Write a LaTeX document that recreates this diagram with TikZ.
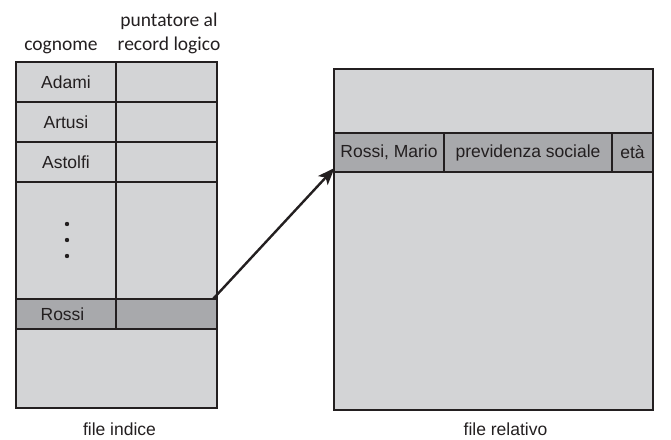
\documentclass[tikz,border=0pt]{standalone}
\usepackage{fontspec}
\setmainfont{Liberation Sans}
\newfontfamily\hdrfont{Carlito}
\usetikzlibrary{arrows.meta}
\definecolor{lg}{RGB}{211,212,214}
\definecolor{dg}{RGB}{168,169,172}
\definecolor{ink}{RGB}{35,31,32}
\begin{document}
\begin{tikzpicture}[x=1pt,y=-1pt,
  cell/.style={draw=ink,line width=1.1pt,fill=lg,inner sep=0pt,outer sep=0pt,
    anchor=north west,text=ink,font=\fontsize{17.5}{20}\selectfont},
  dark/.style={cell,fill=dg},
  hdr/.style={anchor=base,inner sep=0pt,text=ink,font=\hdrfont\fontsize{19.5}{22}\selectfont},
  caption/.style={anchor=base,inner sep=0pt,text=ink,font=\fontsize{17.5}{20}\selectfont},
  ptr/.style={-{Stealth[length=17pt,width=13pt,inset=4pt]},line width=2.4pt,draw=ink}]
\useasboundingbox (0,0) rectangle (671,439);
% header labels
\node[hdr] (hcog) at (61,50) {cognome};
\node[hdr] (hpun) at (169,26) {puntatore al};
\node[hdr] (hrec) at (169,50) {record logico};
% file indice
\node[cell,minimum width=100pt,minimum height=40pt] (adami) at (16,62) {Adami};
\node[cell,minimum width=101pt,minimum height=40pt] (adamiP) at (116,62) {};
\node[cell,minimum width=100pt,minimum height=40pt] (artusi) at (16,102) {Artusi};
\node[cell,minimum width=101pt,minimum height=40pt] (artusiP) at (116,102) {};
\node[cell,minimum width=100pt,minimum height=40pt] (astolfi) at (16,142) {Astolfi};
\node[cell,minimum width=101pt,minimum height=40pt] (astolfiP) at (116,142) {};
\node[cell,minimum width=100pt,minimum height=117pt] (dotsc) at (16,182) {};
\node[cell,minimum width=101pt,minimum height=117pt] (dotsP) at (116,182) {};
\node[cell,minimum width=201pt,minimum height=79pt] (rest) at (16,329) {};
\node[dark,minimum width=100pt,minimum height=30pt] (rossi) at (16,299) {\hspace*{-7pt}Rossi};
\node[dark,minimum width=101pt,minimum height=30pt] (rossiP) at (116,299) {};
\fill[ink] (67,224) circle (2.2pt) (67,240) circle (2.2pt) (67,256) circle (2.2pt);
% file relativo
\node[cell,minimum width=319pt,minimum height=341pt] (rel) at (334,69) {};
\node[dark,minimum width=110pt,minimum height=39pt] (rm) at (334,133) {Rossi, Mario};
\node[dark,minimum width=168pt,minimum height=39pt] (ps) at (444,133) {previdenza sociale};
\node[dark,minimum width=41pt,minimum height=39pt] (eta) at (612,133) {età};
% captions
\node[caption] (cind) at (119.5,435) {file indice};
\node[caption] (crel) at (505.5,435) {file relativo};
% arrow
\coordinate (a0) at (213,299);
\coordinate (a1) at (334.5,168);
\draw[ptr] (a0) -- (a1);
\end{tikzpicture}
\end{document}
